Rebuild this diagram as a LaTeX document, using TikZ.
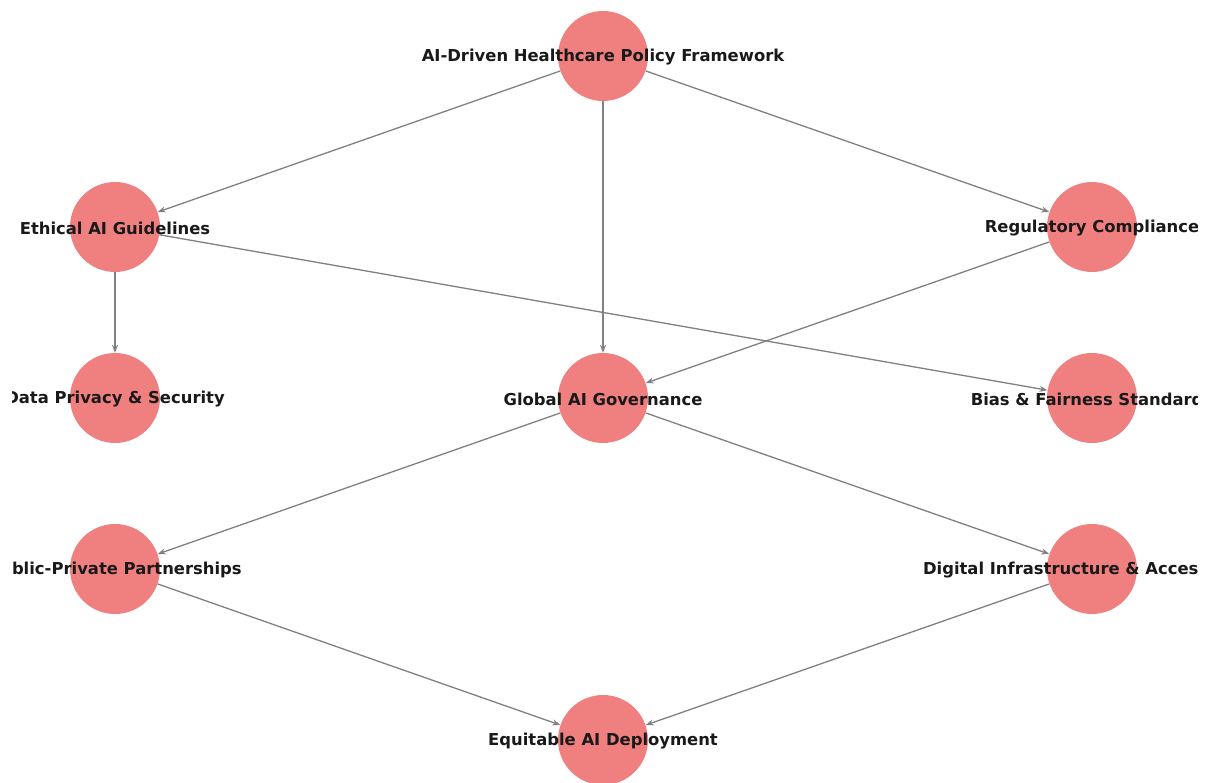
\documentclass[tikz,border=0pt]{standalone}
\usepackage{fontspec}
\setmainfont{DejaVu Sans}
\usetikzlibrary{arrows.meta}
\definecolor{nodecol}{HTML}{F08080}
\definecolor{edgecol}{HTML}{808080}
\tikzset{
  ball/.style={circle,fill=nodecol,draw=none,minimum size=90pt,inner sep=0pt},
  lbl/.style={font=\bfseries\fontsize{16.4}{18}\selectfont,text=black!90,inner sep=0pt,yshift=-1pt},
  conn/.style={draw=edgecol,line width=1.3pt,-{Stealth[length=8pt,width=6pt]}}
}
\begin{document}
\begin{tikzpicture}[x=1pt,y=-1pt]
\useasboundingbox (0,0) rectangle (1205,783);
\clip (12,0) rectangle (1197,783);
\node[ball] (top) at (603,56) {};
\node[ball] (eth) at (115,227) {};
\node[ball] (reg) at (1092,227) {};
\node[ball] (dat) at (115,398) {};
\node[ball] (glo) at (603,398) {};
\node[ball] (bia) at (1092,398) {};
\node[ball] (pub) at (115,569) {};
\node[ball] (dig) at (1092,569) {};
\node[ball] (equ) at (603,740) {};
\draw[conn] (top) -- (eth);
\draw[conn] (top) -- (glo);
\draw[conn] (top) -- (reg);
\draw[conn] (eth) -- (dat);
\draw[conn] (eth) -- (bia);
\draw[conn] (reg) -- (glo);
\draw[conn] (glo) -- (pub);
\draw[conn] (glo) -- (dig);
\draw[conn] (pub) -- (equ);
\draw[conn] (dig) -- (equ);
\node[lbl] (ltop) at (top.center) {AI-Driven Healthcare Policy Framework};
\node[lbl] (leth) at (eth.center) {Ethical AI Guidelines};
\node[lbl] (lreg) at (reg.center) {Regulatory Compliance};
\node[lbl] (ldat) at (dat.center) {Data Privacy \& Security};
\node[lbl] (lglo) at (glo.center) {Global AI Governance};
\node[lbl] (lbia) at (bia.center) {Bias \& Fairness Standards};
\node[lbl] (lpub) at (pub.center) {Public-Private Partnerships};
\node[lbl] (ldig) at (dig.center) {Digital Infrastructure \& Accessibility};
\node[lbl] (lequ) at (equ.center) {Equitable AI Deployment};
\end{tikzpicture}
\end{document}
